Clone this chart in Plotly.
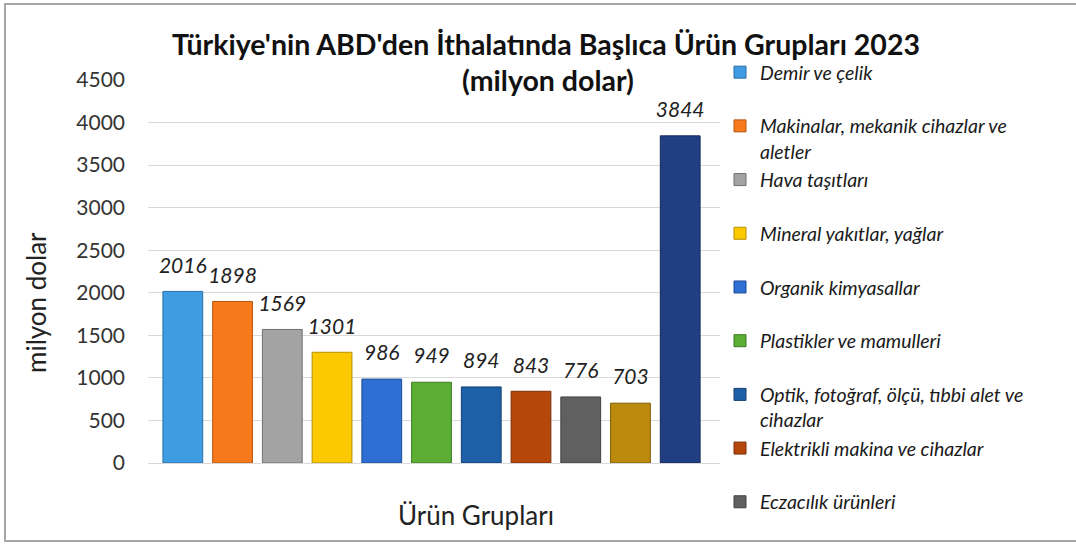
import plotly.graph_objects as go

# ---- data ----
categories = [
    "Demir ve çelik",
    "Makinalar, mekanik cihazlar ve aletler",
    "Hava taşıtları",
    "Mineral yakıtlar, yağlar",
    "Organik kimyasallar",
    "Plastikler ve mamulleri",
    "Optik, fotoğraf, ölçü, tıbbi alet ve cihazlar",
    "Elektrikli makina ve cihazlar",
    "Eczacılık ürünleri",
    "Diğer grup",
    "Diğer",
]
values = [2016, 1898, 1569, 1301, 986, 949, 894, 843, 776, 703, 3844]
legend_labels = [
    "Demir ve çelik<br> ",
    "Makinalar, mekanik cihazlar ve<br>aletler",
    "Hava taşıtları<br> ",
    "Mineral yakıtlar, yağlar<br> ",
    "Organik kimyasallar<br> ",
    "Plastikler ve mamulleri<br> ",
    "Optik, fotoğraf, ölçü, tıbbi alet ve<br>cihazlar",
    "Elektrikli makina ve cihazlar<br> ",
    "Eczacılık ürünleri",
    "Diğer grup",
    "Diğer",
]
show_in_legend = [True] * 9 + [False] * 2
y_ticks = [0, 500, 1000, 1500, 2000, 2500, 3000, 3500, 4000, 4500]

title_line1 = "Türkiye'nin ABD'den İthalatında Başlıca Ürün Grupları 2023"
title_line2 = "(milyon dolar)"
y_title = "milyon dolar"
x_title = "Ürün Grupları"

# ---- styles ----
colors = ["#3f9be2", "#f67a1c", "#a3a3a3", "#fcc800", "#2f6fd3", "#5cae35",
          "#1e60a8", "#b5470b", "#606060", "#bc8a0c", "#1f3f82"]
edges = ["#2a6fa8", "#b65610", "#707070", "#b58f00", "#1f4c96", "#3e7d22",
         "#143f72", "#7d3007", "#404040", "#7f5d06", "#142a58"]

W, H = 1076, 544
L, R, T, B = 148, 720, 80, 463
FONT = "Lato"


def px_x(px):
    return (px - L) / (R - L)


def px_y(py):
    return (B - py) / (B - T)


idx = list(range(len(values)))

fig = go.Figure()
for i, (cat, v) in enumerate(zip(categories, values)):
    fig.add_trace(go.Bar(
        x=[idx[i]], y=[v], width=0.8,
        name=legend_labels[i],
        legendgroup=str(i),
        showlegend=show_in_legend[i],
        marker=dict(color=colors[i], line=dict(color=edges[i], width=1)),
        hovertext=cat, hoverinfo="text+y",
    ))

# value labels above bars
fig.add_trace(go.Scatter(
    x=idx, y=values, mode="markers+text",
    text=[str(v) for v in values], textposition="top center",
    marker=dict(size=20, opacity=0),
    textfont=dict(family=FONT, size=21, color="#222222", style="italic"),
    showlegend=False, cliponaxis=False, hoverinfo="skip",
))

fig.update_layout(
    width=W, height=H,
    margin=dict(l=L, r=W - R, t=T, b=H - B),
    paper_bgcolor="white", plot_bgcolor="white",
    showlegend=True,
    legend=dict(
        x=px_x(720), y=px_y(53), xanchor="left", yanchor="top",
        font=dict(family=FONT, size=19.5, color="#1a1a1a", style="italic"),
        traceorder="grouped", tracegroupgap=0, valign="top",
        bgcolor="rgba(0,0,0,0)", maxheight=540,
    ),
    xaxis=dict(range=[-0.7, 10.8], showticklabels=False, showgrid=False,
               zeroline=False, showline=False, fixedrange=True),
    yaxis=dict(range=[0, 4500], tickvals=y_ticks, ticktext=[str(t) for t in y_ticks],
               showgrid=True, gridcolor="#d9d9d9", gridwidth=1,
               zeroline=True, zerolinecolor="#d9d9d9", zerolinewidth=1,
               showline=False, ticks="", ticklabelstandoff=22,
               tickfont=dict(family=FONT, size=21, color="#333333")),
    annotations=[
        dict(text="<b>" + title_line1 + "</b>", xref="paper", yref="paper",
             x=px_x(546), y=px_y(44), xanchor="center", yanchor="middle",
             showarrow=False, font=dict(family=FONT, size=28.5, color="#111111")),
        dict(text="<b>" + title_line2 + "</b>", xref="paper", yref="paper",
             x=px_x(548), y=px_y(80), xanchor="center", yanchor="middle",
             showarrow=False, font=dict(family=FONT, size=28.5, color="#111111")),
        dict(text=y_title, xref="paper", yref="paper",
             x=px_x(36), y=px_y(303), xanchor="center", yanchor="middle",
             textangle=-90, showarrow=False,
             font=dict(family=FONT, size=26, color="#222222")),
        dict(text=x_title, xref="paper", yref="paper",
             x=px_x(476), y=px_y(515), xanchor="center", yanchor="middle",
             showarrow=False, font=dict(family=FONT, size=26, color="#222222")),
    ],
    shapes=[
        dict(type="rect", xref="paper", yref="paper",
             x0=px_x(5), x1=px_x(1090), y0=px_y(541), y1=px_y(4),
             line=dict(color="#a6a6a6", width=2), fillcolor="rgba(0,0,0,0)",
             layer="below"),
    ],
)

fig.write_html("out.html", config={"displayModeBar": False},
               post_script="document.body.style.margin='0';")
